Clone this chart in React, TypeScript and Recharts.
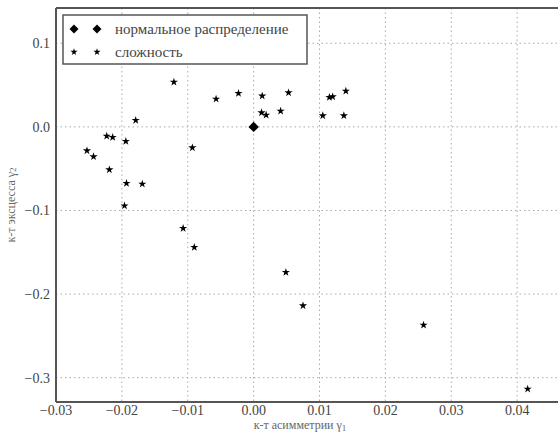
import React from "react";
import {
  ScatterChart,
  Scatter,
  XAxis,
  YAxis,
  CartesianGrid,
  ReferenceLine,
} from "recharts";

// skewness (γ1) and excess kurtosis (γ2) per sample
const complexitySkew = [
  -0.0121, -0.0057, -0.0023, 0.0013, 0.0053, 0.0012, 0.0019, 0.0041, -0.0179,
  -0.0223, -0.0214, -0.0194, -0.0253, -0.0243, -0.0093, -0.0219, -0.0193,
  -0.0169, -0.0196, 0.0115, 0.012, 0.014, 0.0105, 0.0137, -0.0107, -0.009,
  0.0049, 0.0075, 0.0258, 0.0416,
];
const complexityKurt = [
  0.0537, 0.0334, 0.0402, 0.037, 0.0409, 0.017, 0.0142, 0.019, 0.0079,
  -0.0109, -0.0124, -0.0172, -0.0285, -0.0356, -0.0249, -0.0512, -0.0675,
  -0.0683, -0.0943, 0.0354, 0.0361, 0.0429, 0.0134, 0.0134, -0.1213, -0.144,
  -0.174, -0.2139, -0.237, -0.3135,
];
const normalSkew = [0];
const normalKurt = [0];

const seriesNames = ["нормальное распределение", "сложность"];
const xTicks = [-0.03, -0.02, -0.01, 0, 0.01, 0.02, 0.03, 0.04];
const yTicks = [-0.3, -0.2, -0.1, 0, 0.1];
const xDomain: [number, number] = [-0.03, 0.05];
const yDomain: [number, number] = [-0.3291, 0.1422];

const complexityData = complexitySkew.map((x, i) => ({ x, y: complexityKurt[i] }));
const normalData = normalSkew.map((x, i) => ({ x, y: normalKurt[i] }));

const FONT = "Liberation Serif";
const SPINE = "#555";

const fmt = (digits: number) => (v: number) =>
  (v < 0 ? "\u2212" : "") + Math.abs(v).toFixed(digits);

function starPath(cx: number, cy: number, R: number) {
  const r = R * 0.382;
  let d = "";
  for (let i = 0; i < 10; i++) {
    const a = -Math.PI / 2 + (i * Math.PI) / 5;
    const rad = i % 2 === 0 ? R : r;
    d += (i === 0 ? "M" : "L") + (cx + rad * Math.cos(a)).toFixed(2) + "," + (cy + rad * Math.sin(a)).toFixed(2);
  }
  return d + "Z";
}

function diamondPath(cx: number, cy: number, R: number) {
  return `M${cx},${cy - R}L${cx + R},${cy}L${cx},${cy + R}L${cx - R},${cy}Z`;
}

const StarShape = (props: any) => <path d={starPath(props.cx, props.cy, 4.3)} fill="#000" />;
const DiamondShape = (props: any) => <path d={diamondPath(props.cx, props.cy, 5.2)} fill="#000" />;

// legend box in the upper-left corner of the axes
function LegendBox() {
  const rows = [
    { name: seriesNames[0], y: 14, d: (x: number, y: number) => diamondPath(x, y, 4.5) },
    { name: seriesNames[1], y: 37, d: (x: number, y: number) => starPath(x, y, 3.8) },
  ];
  return (
    <svg
      width={246}
      height={51}
      style={{ position: "absolute", left: 62, top: 14 }}
    >
      <rect x={1} y={1} width={244} height={49} fill="#fff" stroke={SPINE} strokeWidth={1.5} />
      {rows.map((r) => (
        <g key={r.name}>
          <path d={r.d(12, r.y + 1)} fill="#000" />
          <path d={r.d(35, r.y + 1)} fill="#000" />
          <text
            x={53}
            y={r.y + 1}
            dominantBaseline="central"
            fontFamily={FONT}
            fontSize={15}
            fill="#444"
          >
            {r.name}
          </text>
        </g>
      ))}
    </svg>
  );
}

export default function App() {
  return (
    <div
      style={{
        position: "fixed",
        left: 0,
        top: 0,
        width: 558,
        height: 434,
        overflow: "hidden",
        background: "#fff",
      }}
    >
      <ScatterChart
        width={600}
        height={434}
        margin={{ top: 8, right: 17, left: 0, bottom: 0 }}
      >
        <CartesianGrid stroke="#aaa" strokeDasharray="1.5 3" />
        <XAxis
          type="number"
          dataKey="x"
          domain={xDomain}
          ticks={xTicks}
          allowDataOverflow
          height={32}
          tickFormatter={fmt(2)}
          tickLine={false}
          tickSize={0}
          tickMargin={3}
          axisLine={{ stroke: SPINE, strokeWidth: 2 }}
          tick={{ fill: "#444", fontSize: 14, fontFamily: FONT }}
          label={{
            content: (p: any) => {
              const vb = p.viewBox || {};
              return (
                <text x={vb.x + 244} y={429} textAnchor="middle" fill="#666" fontSize={12} fontFamily={FONT}>
                  к-т асимметрии γ<tspan fontSize={9} dy={2}>1</tspan>
                </text>
              );
            },
          }}
        />
        <YAxis
          type="number"
          dataKey="y"
          domain={yDomain}
          ticks={yTicks}
          allowDataOverflow
          width={56}
          tickFormatter={fmt(1)}
          tickLine={false}
          tickSize={4}
          tickMargin={2}
          axisLine={{ stroke: SPINE, strokeWidth: 2 }}
          tick={{ fill: "#444", fontSize: 14, fontFamily: FONT }}
          label={{
            content: (p: any) => {
              const vb = p.viewBox || {};
              const cy = vb.y + vb.height / 2;
              return (
                <text
                  x={12}
                  y={cy}
                  transform={`rotate(-90 12 ${cy})`}
                  textAnchor="middle"
                  dominantBaseline="middle"
                  fill="#666"
                  fontSize={12}
                  fontFamily={FONT}
                >
                  к-т эксцесса γ<tspan fontSize={9} dy={2}>2</tspan>
                </text>
              );
            },
          }}
        />
        <ReferenceLine y={yDomain[1]} stroke={SPINE} strokeWidth={2} />
        <Scatter
          name={seriesNames[1]}
          data={complexityData}
          shape={StarShape}
          isAnimationActive={false}
        />
        <Scatter
          name={seriesNames[0]}
          data={normalData}
          shape={DiamondShape}
          isAnimationActive={false}
        />
      </ScatterChart>
      <LegendBox />
    </div>
  );
}
